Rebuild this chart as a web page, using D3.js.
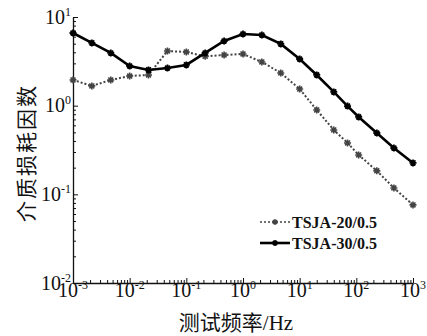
<!DOCTYPE html>
<html>
<head>
<meta charset="utf-8">
<script src="https://cdn.jsdelivr.net/npm/d3@7"></script>
<style>
  body { margin: 0; background: #fff; }
  text { fill: #111; }
</style>
</head>
<body>
<script>
let width = 427;
let height = 336;

// frequencies (Hz) shared by both series
let freqs = [0.001, 0.00215, 0.00464, 0.01, 0.0215, 0.0464, 0.1, 0.215, 0.464, 1,
             2.15, 4.64, 10, 20, 40, 70, 110, 230, 460, 1000];
let tsja20 = [1.95, 1.67, 1.95, 2.16, 2.22, 4.14, 4.03, 3.6, 3.73, 3.83,
              3.11, 2.34, 1.54, 0.895, 0.532, 0.38, 0.278, 0.184, 0.118, 0.076];
let tsja30 = [6.6, 5.1, 3.93, 2.8, 2.53, 2.66, 2.88, 3.93, 5.36, 6.43,
              6.27, 4.97, 3.36, 2.22, 1.43, 0.99, 0.746, 0.492, 0.333, 0.226];
let seriesNames = ["TSJA-20/0.5", "TSJA-30/0.5"];
let xExponents = [-3, -2, -1, 0, 1, 2, 3];
let yExponents = [-2, -1, 0, 1];

let svg = d3.select("body")
            .append("svg")
            .attr("width", width)
            .attr("height", height);

let x = d3.scaleLog().domain([1e-3, 1e3]).range([73, 413]);
let y = d3.scaleLog().domain([1e-2, 1e1]).range([283, 17]);

function allTicks(lo, hi) {
    let t = [];
    for (let e = lo; e <= hi; e++) {
        for (let m = 1; m <= 9; m++) {
            if (e === hi && m > 1) break;
            t.push(m * Math.pow(10, e));
        }
    }
    return t;
}
let isMajor = v => Math.abs(Math.log10(v) - Math.round(Math.log10(v))) < 1e-9;

// x axis
let gx = svg.append("g")
    .attr("transform", "translate(0,283)")
    .call(d3.axisBottom(x).tickValues(allTicks(-3, 3)).tickFormat("").tickSizeOuter(0));
gx.selectAll(".tick line").attr("y2", d => isMajor(d) ? -5 : -3);

// y axis
let gy = svg.append("g")
    .attr("transform", "translate(73,0)")
    .call(d3.axisLeft(y).tickValues(allTicks(-2, 1)).tickFormat("").tickSizeOuter(0));
gy.selectAll(".tick line").attr("x2", d => isMajor(d) ? 5 : 3);

svg.selectAll(".domain").attr("stroke", "#111").attr("stroke-width", 1.3);
svg.selectAll(".tick line").attr("stroke", "#111").attr("stroke-width", 1);

let serif = "'Liberation Serif', 'Times New Roman', serif";

// x tick labels
let xl = svg.append("g").selectAll("text")
    .data(xExponents).join("text")
    .attr("x", d => x(Math.pow(10, d)))
    .attr("y", 297)
    .attr("text-anchor", "middle")
    .style("font-family", serif)
    .style("font-size", "20px");
xl.append("tspan").text("10");
xl.append("tspan").attr("dy", -8).style("font-size", "12px").text(d => d);

// y tick labels
let yl = svg.append("g").selectAll("text")
    .data(yExponents).join("text")
    .attr("x", 71)
    .attr("y", d => y(Math.pow(10, d)) + 6.5)
    .attr("text-anchor", "end")
    .style("font-family", serif)
    .style("font-size", "20px");
yl.append("tspan").text("10");
yl.append("tspan").attr("dy", -8).style("font-size", "12px").text(d => d);

// axis titles
let xt = svg.append("text")
    .attr("x", 236)
    .attr("y", 330)
    .attr("text-anchor", "middle")
    .style("font-size", "21px");
xt.append("tspan").style("font-family", "'Noto Sans CJK SC'").text("测试频率");
xt.append("tspan").style("font-family", serif).text("/Hz");

svg.append("text")
    .attr("transform", "translate(34,153) rotate(-90)")
    .attr("text-anchor", "middle")
    .style("font-family", "'Noto Sans CJK SC'")
    .style("font-size", "21px")
    .style("letter-spacing", "2px")
    .text("介质损耗因数");

// series
let line = d3.line()
    .x(d => x(d[0]))
    .y(d => y(d[1]));

function star(g, cx, cy, r, color, w) {
    g.append("path")
        .attr("d", `M${cx - r},${cy}L${cx + r},${cy}M${cx},${cy - r}L${cx},${cy + r}` +
                   `M${cx - r * 0.7},${cy - r * 0.7}L${cx + r * 0.7},${cy + r * 0.7}` +
                   `M${cx - r * 0.7},${cy + r * 0.7}L${cx + r * 0.7},${cy - r * 0.7}`)
        .attr("stroke", color)
        .attr("stroke-width", w);
}

let d20 = freqs.map((f, i) => [f, tsja20[i]]);
let d30 = freqs.map((f, i) => [f, tsja30[i]]);

svg.append("path")
    .attr("d", line(d20))
    .attr("fill", "none")
    .attr("stroke", "#444")
    .attr("stroke-width", 2)
    .attr("stroke-dasharray", "2,2");
let m20 = svg.append("g");
d20.forEach(d => star(m20, x(d[0]), y(d[1]), 3.5, "#444", 1.6));

svg.append("path")
    .attr("d", line(d30))
    .attr("fill", "none")
    .attr("stroke", "#000")
    .attr("stroke-width", 2.6);
let m30 = svg.append("g");
d30.forEach(d => star(m30, x(d[0]), y(d[1]), 3.5, "#000", 1.8));

// legend
let legend = svg.append("g");
legend.append("line")
    .attr("x1", 260).attr("x2", 290).attr("y1", 222).attr("y2", 222)
    .attr("stroke", "#444").attr("stroke-width", 1.6).attr("stroke-dasharray", "2,2");
star(legend, 275, 222, 3, "#444", 1.4);
legend.append("line")
    .attr("x1", 260).attr("x2", 290).attr("y1", 243).attr("y2", 243)
    .attr("stroke", "#000").attr("stroke-width", 2.6);
star(legend, 275, 243, 3, "#000", 1.6);
legend.selectAll("text.lab")
    .data(seriesNames).join("text")
    .attr("class", "lab")
    .attr("x", 292)
    .attr("y", (d, i) => 228 + i * 21)
    .style("font-family", serif)
    .style("font-weight", "bold")
    .style("font-size", "16px")
    .text(d => d);
</script>
</body>
</html>
